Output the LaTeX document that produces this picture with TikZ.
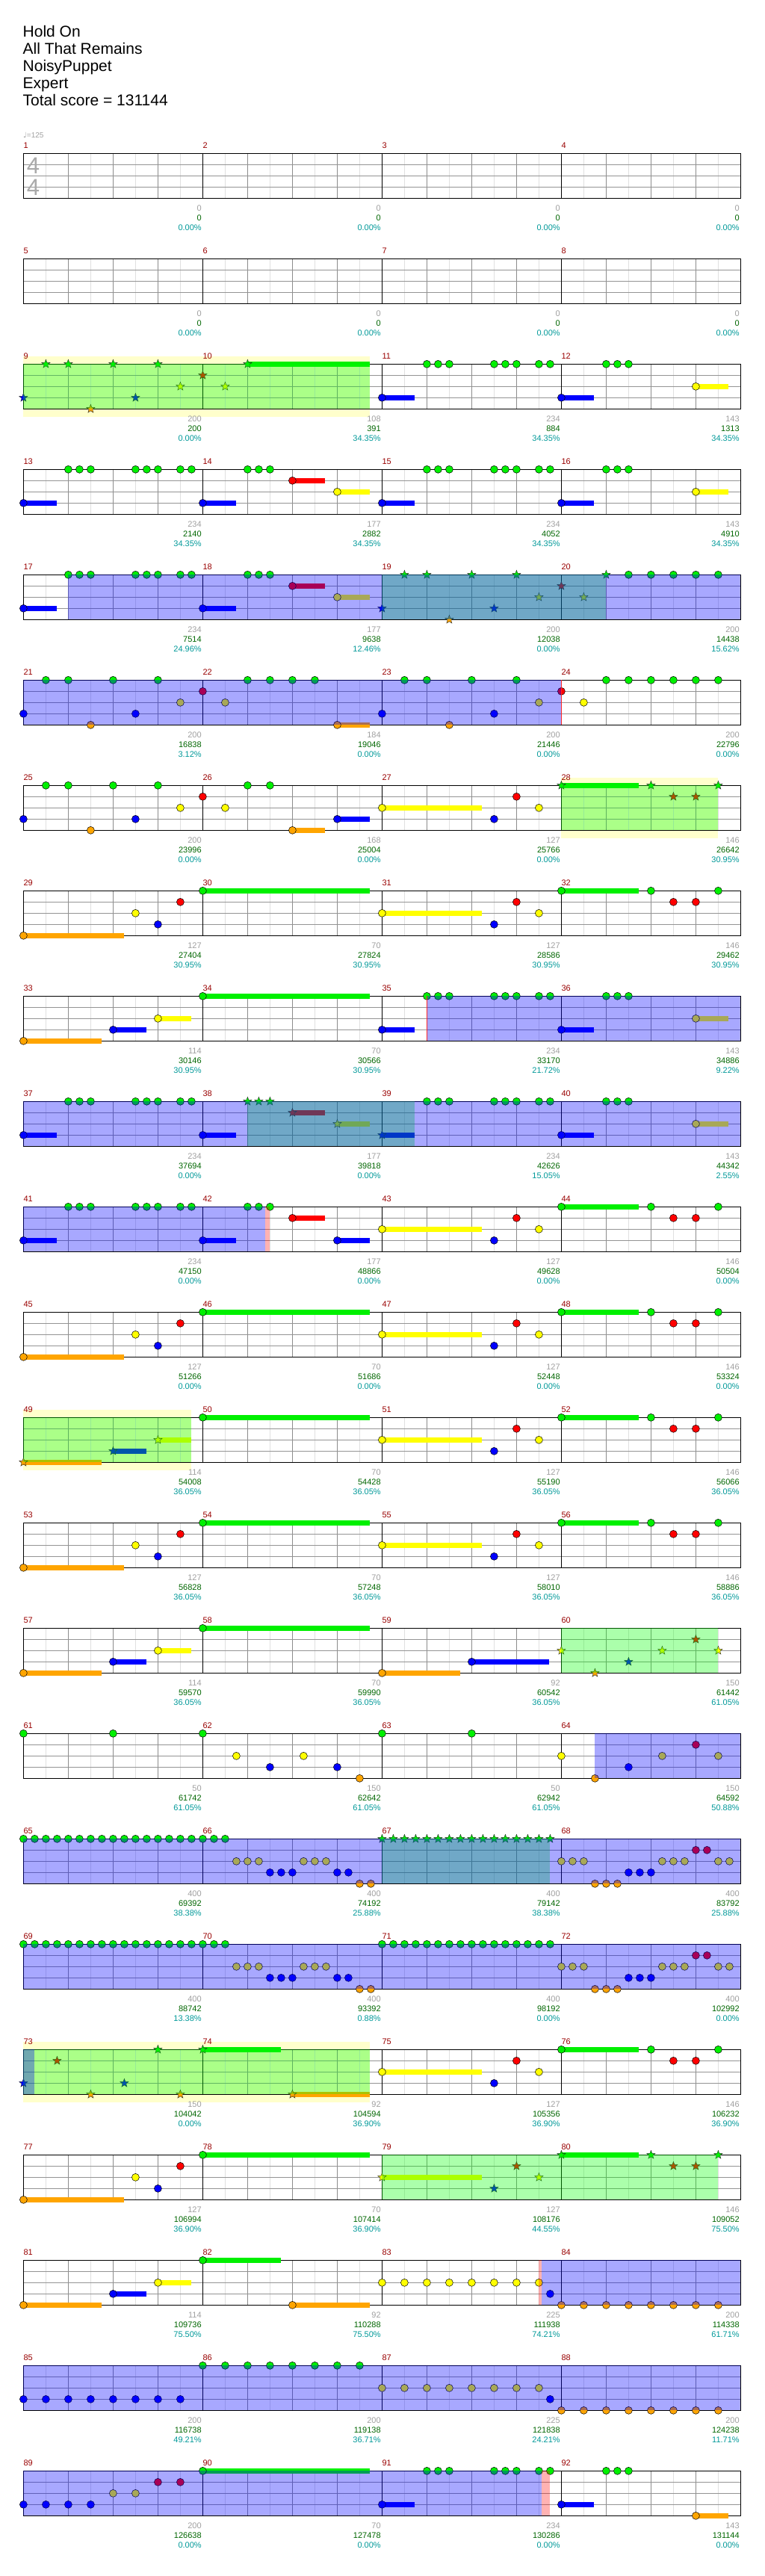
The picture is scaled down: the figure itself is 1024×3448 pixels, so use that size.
\documentclass[tikz,border=0pt]{standalone}
\usepackage{fontspec}
\setmainfont{Liberation Sans}
\newfontfamily\djv{DejaVu Sans}
\usetikzlibrary{shapes.geometric}
\definecolor{lane0}{HTML}{00F000}
\definecolor{lane1}{HTML}{FF0000}
\definecolor{lane2}{HTML}{FFFF00}
\definecolor{lane3}{HTML}{0000FF}
\definecolor{lane4}{HTML}{FFA500}
\definecolor{paleyel}{HTML}{FFFFCC}
\definecolor{mnumc}{HTML}{990000}
\definecolor{cntc}{HTML}{A0A0A0}
\definecolor{scorec}{HTML}{006600}
\definecolor{pctc}{HTML}{009999}
\definecolor{tsig}{HTML}{AAAAAA}
\tikzset{
 note/.style={draw=black, line width=0.5pt},
 starn/.style={star, star points=5, star point ratio=2.4, minimum size=12pt, inner sep=0pt, draw=black!85, line width=0.4pt},
 sus/.style={line width=6.7pt},
 g8/.style={draw=black!12, line width=0.5pt},
 g4/.style={draw=black!45, line width=0.6pt},
 gl/.style={draw=black!42, line width=0.8pt},
 gm/.style={draw=black, line width=0.5pt},
 gb/.style={draw=black, line width=1.2pt},
 mnum/.style={anchor=base west, inner sep=0pt, text=mnumc, font=\fontsize{11}{11}\selectfont, yshift=7pt},
 tbase/.style={anchor=base east, inner sep=0pt, font=\fontsize{11}{11}\selectfont, xshift=-1.5pt},
 ta/.style={tbase, text=cntc, yshift=-16.7pt},
 tb/.style={tbase, text=scorec, yshift=-30pt},
 tc/.style={tbase, text=pctc, yshift=-42.7pt},
 titl/.style={anchor=base west, inner sep=0pt, font=\fontsize{21}{21}\selectfont},
}
\newcommand\Nt[2]{\draw[note,fill=lane#2] (#1,#2) circle[radius=5pt];}
\newcommand\St[2]{\node[starn,fill=lane#2] at (#1,#2) {};}
\newcommand\Su[3]{\draw[sus,draw=lane#2] (#1,#2)--(#3,#2); \Nt{#1}{#2}}
\newcommand\SuS[3]{\draw[sus,draw=lane#2] (#1,#2)--(#3,#2); \St{#1}{#2}}
\newcommand\Ns[2]{\foreach \q in {#2}{\Nt{\q}{#1}}}
\newcommand\Ss[2]{\foreach \q in {#2}{\St{\q}{#1}}}
\newcommand\BO[2]{\fill[blue,opacity=0.34] (#1,0) rectangle (#2,4);}
\newcommand\GO[2]{\fill[green,opacity=0.33] (#1,0) rectangle (#2,4);}
\newcommand\PY[2]{\fill[paleyel] (#1,-0.67) rectangle (#2,4.73);}
\newcommand\PK[2]{\fill[red,opacity=0.3] (#1,0) rectangle (#2,4);}
\newcommand\RL[1]{\draw[red!85, line width=0.6pt] (#1,0)--(#1,4);}
\newcommand\Grid{%
  \foreach \i in {2,6,...,62} \draw[g8] (\i,0)--(\i,4);
  \foreach \i in {4,8,12,20,24,28,36,40,44,52,56,60} \draw[g4] (\i,0)--(\i,4);
  \foreach \i in {1,2,3} \draw[gl] (0,\i)--(64,\i);
  \foreach \i in {16,32,48} \draw[gm] (\i,0)--(\i,4);
  \draw[gb] (0,0) rectangle (64,4);}
\newcommand\Nums[1]{\foreach \k in {0,1,2,3}{\pgfmathtruncatemacro\mn{4*#1+\k+1}\node[mnum] at (16*\k,0) {\mn};}}
\newcommand\Txs[1]{\foreach \xa/\xb/\xc [count=\k from 1] in {#1}{\node[ta] at (16*\k,4) {\xa}; \node[tb] at (16*\k,4) {\xb}; \node[tc] at (16*\k,4) {\xc\%};}}
\newcommand\Row[4]{%
  \begin{scope}[shift={(31.4pt,-205.3pt-#1*141pt)},x=15pt,y=-15pt]
  #2
  \Grid
  \Nums{#1}
  #3
  \Txs{#4}
  \end{scope}}
\newcommand\PatA{\Su{0}{3}{2.96}\Ns{0}{4,5,6,10,11,12,14,15,20,21,22}\Su{16}{3}{18.96}\Su{24}{1}{26.9}\Su{28}{2}{30.9}}
\newcommand\PatB{\Su{32}{3}{34.9}\Ns{0}{36,37,38,42,43,44,46,47}\Su{48}{3}{50.9}\Ns{0}{52,53,54}\Su{60}{2}{62.9}}
\newcommand\PatCa{\Su{0}{4}{8.96}\Ns{2}{10}\Ns{3}{12}\Ns{1}{14}\Su{16}{0}{30.9}}
\newcommand\PatCb{\Su{32}{2}{40.9}\Ns{3}{42}\Ns{1}{44}\Ns{2}{46}\Su{48}{0}{54.9}\Ns{0}{56,62}\Ns{1}{58,60}}
\newcommand\PatCbS{\SuS{32}{2}{40.9}\Ss{3}{42}\Ss{1}{44}\Ss{2}{46}\SuS{48}{0}{54.9}\Ss{0}{56,62}\Ss{1}{58,60}}
\newcommand\PatD{\Su{0}{4}{6.96}\Su{8}{3}{10.96}\Su{12}{2}{14.96}\Su{16}{0}{30.9}}
\newcommand\PatE{\Ns{0}{0,...,18}\Ns{2}{19,20,21,25,26,27}\Ns{3}{22,23,24,28,29}\Ns{4}{30,31}}
\newcommand\PatF{\Ns{2}{48,49,50,57,58,59,62,63}\Ns{4}{51,52,53}\Ns{3}{54,55,56}\Ns{1}{60,61}}
\begin{document}
\begin{tikzpicture}[x=1pt,y=1pt]
\useasboundingbox (0,0) rectangle (1024,-3448);
\fill[white] (0,0) rectangle (1024,-3448);
\node[titl] (t1) at (30.5,-49.8) {Hold On};
\node[titl] (t2) at (30.5,-72.8) {All That Remains};
\node[titl] (t3) at (30.5,-95.8) {NoisyPuppet};
\node[titl] (t4) at (30.5,-118.8) {Expert};
\node[titl] (t5) at (30.5,-141.8) {Total score = 131144};
\node[anchor=base west, inner sep=0pt, text=cntc, font=\fontsize{10}{10}\selectfont] (tempo) at (31,-184.5) {{\djv ♩}=125};
% rows
\Row{0}{}{\node[text=tsig, inner sep=0pt, font=\fontsize{31}{31}\selectfont] (ts1) at (0.87,1.09) {4};
 \node[text=tsig, inner sep=0pt, font=\fontsize{31}{31}\selectfont] (ts2) at (0.87,3.03) {4};}
 {0/0/0.00,0/0/0.00,0/0/0.00,0/0/0.00}
\Row{1}{}{}{0/0/0.00,0/0/0.00,0/0/0.00,0/0/0.00}
\Row{2}{\PY{0}{30.9}}{\Ss{0}{2,4,8,12}\SuS{20}{0}{30.9}\Ss{1}{16}\Ss{2}{14,18}\Ss{3}{0,10}\Ss{4}{6}\PatB\GO{0}{30.9}}
 {200/200/0.00,108/391/34.35,234/884/34.35,143/1313/34.35}
\Row{3}{}{\PatA\PatB}
 {234/2140/34.35,177/2882/34.35,234/4052/34.35,143/4910/34.35}
\Row{4}{}{\PatA\Ss{0}{34,36,40,44,52}\Ss{3}{32,42}\Ss{4}{38}\Ss{2}{46,50}\Ss{1}{48}\Ns{0}{54,56,58,60,62}\GO{32}{52}\BO{4}{64}}
 {234/7514/24.96,177/9638/12.46,200/12038/0.00,200/14438/15.62}
\Row{5}{}{\Ns{0}{2,4,8,12,20,22,24,26,34,36,40,44,52,54,56,58,60,62}\Ns{1}{16,48}\Ns{2}{14,18,46,50}\Ns{3}{0,10,32,42}\Ns{4}{6,38}\Su{28}{4}{30.9}\BO{0}{48}\RL{48}}
 {200/16838/3.12,184/19046/0.00,200/21446/0.00,200/22796/0.00}
\Row{6}{\PY{48}{62}}{\Ns{0}{2,4,8,12,20,22}\Ns{1}{16,44}\Ns{2}{14,18,46}\Su{32}{2}{40.9}\Ns{3}{0,10,42}\Su{28}{3}{30.9}\Ns{4}{6}\Su{24}{4}{26.9}\SuS{48}{0}{54.9}\Ss{0}{56,62}\Ss{1}{58,60}\GO{48}{62}}
 {200/23996/0.00,168/25004/0.00,127/25766/0.00,146/26642/30.95}
\Row{7}{}{\PatCa\PatCb}
 {127/27404/30.95,70/27824/30.95,127/28586/30.95,146/29462/30.95}
\Row{8}{}{\PatD\PatB\BO{36}{64}\RL{36}}
 {114/30146/30.95,70/30566/30.95,234/33170/21.72,143/34886/9.22}
\Row{9}{}{\Su{0}{3}{2.96}\Ns{0}{4,5,6,10,11,12,14,15}\Ss{0}{20,21,22}\Su{16}{3}{18.96}\SuS{24}{1}{26.9}\SuS{28}{2}{30.9}\SuS{32}{3}{34.9}\Ns{0}{36,37,38,42,43,44,46,47}\Su{48}{3}{50.9}\Ns{0}{52,53,54}\Su{60}{2}{62.9}\GO{20}{34.9}\BO{0}{64}}
 {234/37694/0.00,177/39818/0.00,234/42626/15.05,143/44342/2.55}
\Row{10}{}{\Su{0}{3}{2.96}\Ns{0}{4,5,6,10,11,12,14,15,20,21,22}\Su{16}{3}{18.96}\Su{24}{1}{26.9}\Su{28}{3}{30.9}\PatCb\BO{0}{21.55}\PK{21.55}{22}}
 {234/47150/0.00,177/48866/0.00,127/49628/0.00,146/50504/0.00}
\Row{11}{}{\PatCa\PatCb}
 {127/51266/0.00,70/51686/0.00,127/52448/0.00,146/53324/0.00}
\Row{12}{\PY{0}{14.96}}{\SuS{0}{4}{6.96}\SuS{8}{3}{10.96}\SuS{12}{2}{14.96}\Su{16}{0}{30.9}\PatCb\GO{0}{14.96}}
 {114/54008/36.05,70/54428/36.05,127/55190/36.05,146/56066/36.05}
\Row{13}{}{\PatCa\PatCb}
 {127/56828/36.05,70/57248/36.05,127/58010/36.05,146/58886/36.05}
\Row{14}{}{\PatD\Su{32}{4}{38.96}\Su{40}{3}{46.9}\Ss{2}{48,57,62}\Ss{4}{51}\Ss{3}{54}\Ss{1}{60}\GO{48}{62}}
 {114/59570/36.05,70/59990/36.05,92/60542/36.05,150/61442/61.05}
\Row{15}{}{\Ns{0}{0,8,16,32,40}\Ns{2}{19,25,48,57,62}\Ns{3}{22,28,54}\Ns{4}{30,51}\Ns{1}{60}\BO{51}{64}}
 {50/61742/61.05,150/62642/61.05,50/62942/61.05,150/64592/50.88}
\Row{16}{}{\PatE\Ss{0}{32,...,47}\PatF\GO{32}{47}\BO{0}{64}}
 {400/69392/38.38,400/74192/25.88,400/79142/38.38,400/83792/25.88}
\Row{17}{}{\PatE\Ns{0}{32,...,47}\PatF\BO{0}{64}}
 {400/88742/13.38,400/93392/0.88,400/98192/0.00,400/102992/0.00}
\Row{18}{\PY{0}{30.9}}{\Ss{3}{0,9}\Ss{1}{3}\Ss{4}{6,14}\Ss{0}{12}\SuS{16}{0}{22.96}\SuS{24}{4}{30.9}\PatCb\GO{0}{30.9}\BO{0}{1}}
 {150/104042/0.00,92/104594/36.90,127/105356/36.90,146/106232/36.90}
\Row{19}{}{\PatCa\PatCbS\GO{32}{62}}
 {127/106994/36.90,70/107414/36.90,127/108176/44.55,146/109052/75.50}
\Row{20}{}{\Su{0}{4}{6.96}\Su{8}{3}{10.96}\Su{12}{2}{14.96}\Su{16}{0}{22.96}\Su{24}{4}{30.9}\Ns{2}{32,34,...,46}\Ns{3}{47}\Ns{4}{48,50,...,62}\PK{45.97}{46.27}\BO{46.27}{64}}
 {114/109736/75.50,92/110288/75.50,225/111938/74.21,200/114338/61.71}
\Row{21}{}{\Ns{3}{0,2,...,14}\Ns{0}{16,18,...,30}\Ns{2}{32,34,...,46}\Ns{3}{47}\Ns{4}{48,50,...,62}\BO{0}{64}}
 {200/116738/49.21,200/119138/36.71,225/121838/24.21,200/124238/11.71}
\Row{22}{}{\Ns{3}{0,2,4,6}\Ns{2}{8,10}\Ns{1}{12,14}\Su{16}{0}{30.9}\Su{32}{3}{34.9}\Ns{0}{36,37,38,42,43,44,46,47}\Su{48}{3}{50.9}\Ns{0}{52,53,54}\Su{60}{4}{62.9}\BO{0}{46.27}\PK{46.27}{46.97}}
 {200/126638/0.00,70/127478/0.00,234/130286/0.00,143/131144/0.00}
\end{tikzpicture}
\end{document}
